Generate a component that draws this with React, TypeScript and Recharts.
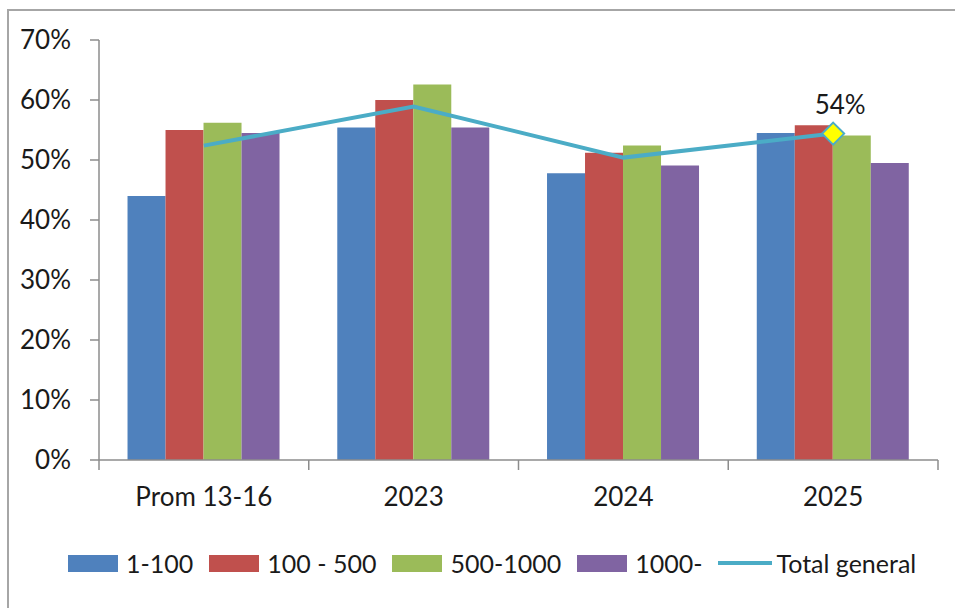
import React from 'react';
import {
    ComposedChart,
    Bar,
    Line,
    XAxis,
    YAxis,
    Legend,
    LabelList,
} from 'recharts';

// categories and series (fractions, shown as %)
const categories = ['Prom 13-16', '2023', '2024', '2025'];
const s1to100 = [0.44, 0.554, 0.478, 0.545];
const s100to500 = [0.55, 0.6, 0.512, 0.558];
const s500to1000 = [0.562, 0.626, 0.524, 0.541];
const s1000plus = [0.545, 0.554, 0.491, 0.495];
const totalGeneral = [0.524, 0.589, 0.504, 0.544];
const yTicks = [0, 0.1, 0.2, 0.3, 0.4, 0.5, 0.6, 0.7];
const seriesOrder = ['a', 'b', 'c', 'd', 'total'];

const data = categories.map((cat, i) => ({
    cat,
    a: s1to100[i],
    b: s100to500[i],
    c: s500to1000[i],
    d: s1000plus[i],
    total: totalGeneral[i],
}));

const W = 955;
const H = 608;
const MARGIN = { top: 40, right: 17, bottom: 0, left: 0 };
const Y_AXIS_W = 99;
const X_AXIS_H = 148;
const FONT = 'Lato, "Open Sans", sans-serif';
const TEXT = '#1a1a1a';
const AXIS = '#8c8c8c';
const LAST = totalGeneral.length - 1;

const bandWidth = (W - MARGIN.left - MARGIN.right - Y_AXIS_W) / categories.length;

const pct = (v: number) => `${Math.round(v * 100)}%`;

// excel style: tick marks sit on the category boundaries, not the centres
const CategoryTick = (props: any) => {
    const { x, y, payload, index } = props;
    const y0 = y - 28;
    const left = x - bandWidth / 2;
    const right = x + bandWidth / 2;
    return (
        <g>
            <line x1={left} x2={left} y1={y0} y2={y0 + 10} stroke={AXIS} strokeWidth={1.5} />
            {index === categories.length - 1 && (
                <line x1={right} x2={right} y1={y0} y2={y0 + 10} stroke={AXIS} strokeWidth={1.5} />
            )}
            <text x={x} y={y} dy="0.71em" textAnchor="middle" fill={TEXT} fontSize={26} fontFamily={FONT}>
                {payload.value}
            </text>
        </g>
    );
};

const LastDot = (props: any) => {
    const { cx, cy, index } = props;
    if (index !== LAST) return <g key={`dot-${index}`} />;
    const r = 11;
    return (
        <polygon
            key={`dot-${index}`}
            points={`${cx},${cy - r} ${cx + r},${cy} ${cx},${cy + r} ${cx - r},${cy}`}
            fill="#ffff00"
            stroke="#4bacc6"
            strokeWidth={2}
        />
    );
};

const LastLabel = (props: any) => {
    const { x, y, value, index } = props;
    if (index !== LAST) return null;
    return (
        <text x={x + 7} y={y - 20} textAnchor="middle" fill={TEXT} fontSize={26} fontFamily={FONT}>
            {pct(value)}
        </text>
    );
};

const LegendContent = (props: any) => {
    const items = [...(props.payload || [])].sort(
        (p: any, q: any) => seriesOrder.indexOf(p.dataKey) - seriesOrder.indexOf(q.dataKey)
    );
    return (
        <div style={{ display: 'flex', alignItems: 'center', fontFamily: FONT, fontSize: 25, color: TEXT }}>
            {items.map((entry: any, i: number) => (
                <div key={`leg-${i}`} style={{ display: 'flex', alignItems: 'center', marginRight: 16 }}>
                    {entry.type === 'line' ? (
                        <div style={{ width: 54, height: 4, background: entry.color, marginRight: 4 }} />
                    ) : (
                        <div style={{ width: 50, height: 17, background: entry.color, marginRight: 8 }} />
                    )}
                    <span style={{ whiteSpace: 'nowrap' }}>{entry.value}</span>
                </div>
            ))}
        </div>
    );
};

export default function App() {
    return (
        <div style={{ position: 'absolute', left: 0, top: 0, width: W, height: H, overflow: 'hidden', background: '#fff', fontFamily: FONT }}>
            <div
                style={{
                    position: 'absolute',
                    left: 7,
                    top: 9,
                    width: W + 20,
                    height: H + 20,
                    borderLeft: '2px solid #a6a6a6',
                    borderTop: '2px solid #a6a6a6',
                }}
            />
            <div style={{ position: 'absolute', left: 0, top: 0 }}>
                <ComposedChart
                    width={W}
                    height={H}
                    data={data}
                    margin={MARGIN}
                    barGap={0}
                    barCategoryGap="13.6%"
                >
                    <XAxis
                        dataKey="cat"
                        height={X_AXIS_H}
                        tickLine={false}
                        tickSize={10}
                        tickMargin={18}
                        axisLine={{ stroke: AXIS, strokeWidth: 1.5 }}
                        tick={<CategoryTick />}
                        interval={0}
                    />
                    <YAxis
                        width={Y_AXIS_W}
                        domain={[0, 0.7]}
                        ticks={yTicks}
                        tickFormatter={pct}
                        tickSize={9}
                        tickMargin={19}
                        axisLine={{ stroke: AXIS, strokeWidth: 1.5 }}
                        tickLine={{ stroke: AXIS, strokeWidth: 1.5 }}
                        tick={{ fill: TEXT, fontSize: 26, fontFamily: FONT }}
                        allowDataOverflow
                    />
                    <Legend
                        verticalAlign="middle"
                        align="center"
                        layout="horizontal"
                        content={<LegendContent />}
                        wrapperStyle={{ top: 548, left: 68, width: 'auto' }}
                    />
                    <Bar dataKey="a" name="1-100" fill="#4f81bd" isAnimationActive={false} />
                    <Bar dataKey="b" name="100 - 500" fill="#c0504d" isAnimationActive={false} />
                    <Bar dataKey="c" name="500-1000" fill="#9bbb59" isAnimationActive={false} />
                    <Bar dataKey="d" name="1000-" fill="#8064a2" isAnimationActive={false} />
                    <Line
                        dataKey="total"
                        name="Total general"
                        type="linear"
                        stroke="#4bacc6"
                        strokeWidth={4}
                        dot={<LastDot />}
                        activeDot={false}
                        isAnimationActive={false}
                    >
                        <LabelList dataKey="total" content={<LastLabel />} />
                    </Line>
                </ComposedChart>
            </div>
        </div>
    );
}
